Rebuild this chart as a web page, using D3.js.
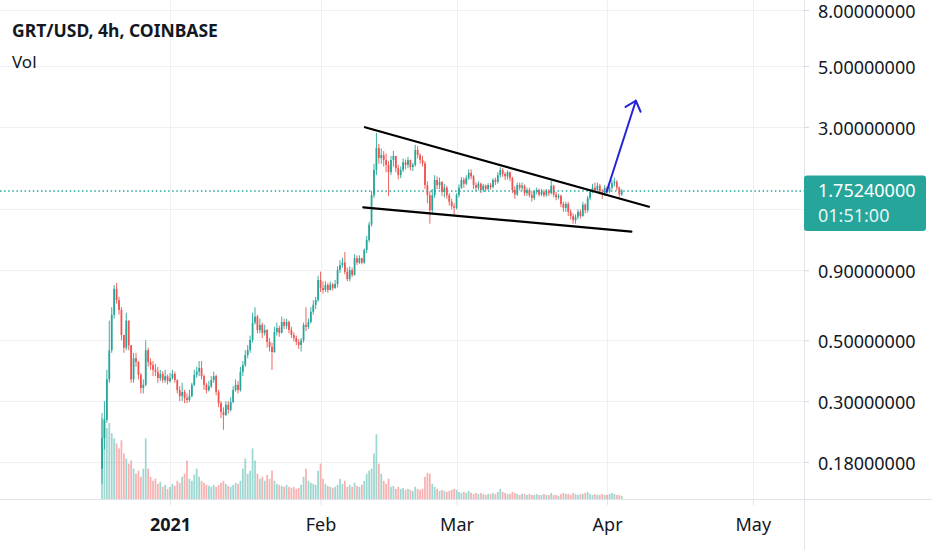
<!DOCTYPE html>
<html>
<head>
<meta charset="utf-8">
<script src="https://cdn.jsdelivr.net/npm/d3@7"></script>
<style>
  html, body { margin: 0; padding: 0; background: #ffffff; }
  svg { display: block; }
  text { font-family: "Noto Sans", "Open Sans", sans-serif; }
</style>
</head>
<body>
<svg id="chart" width="932" height="550"></svg>
<script>
// ---------------- DATA (12h candles) ----------------
const startTime = "2020-12-18T00:00:00Z";
const candleHours = 12;
const firstOpen = 0.17;

const closes = [
  0.22,0.256,0.36,0.46,0.62,0.77,0.70,0.645,0.523,0.47,
  0.59,0.48,0.36,0.43,0.417,0.374,0.335,0.344,0.46,0.417,
  0.406,0.39,0.384,0.364,0.377,0.358,0.37,0.355,0.364,0.377,
  0.358,0.329,0.313,0.324,0.308,0.303,0.313,0.344,0.374,0.384,
  0.396,0.37,0.344,0.329,0.34,0.358,0.37,0.324,0.295,0.274,
  0.267,0.291,0.279,0.298,0.329,0.344,0.329,0.384,0.406,0.442,
  0.461,0.501,0.58,0.61,0.545,0.569,0.532,0.545,0.493,0.473,
  0.453,0.536,0.554,0.532,0.583,0.564,0.583,0.545,0.523,0.51,
  0.493,0.481,0.50,0.569,0.56,0.583,0.635,0.673,0.701,0.829,
  0.776,0.763,0.795,0.763,0.80,0.776,0.802,0.902,0.941,0.96,
  0.888,0.836,0.902,0.865,0.996,0.96,0.996,0.96,1.067,1.16,
  1.32,1.69,2.09,2.51,2.31,2.37,2.27,2.18,2.05,2.27,
  2.35,2.12,2.0,2.09,2.23,2.18,2.27,2.14,2.18,2.47,
  2.37,2.27,2.21,1.84,1.69,1.49,1.69,1.92,1.84,1.89,
  1.74,1.80,1.69,1.60,1.54,1.52,1.69,1.80,1.92,1.86,
  1.95,2.04,1.98,1.84,1.80,1.86,1.765,1.83,1.78,1.84,
  1.81,1.92,1.89,2.0,2.09,2.02,1.98,2.05,1.95,1.765,
  1.70,1.84,1.80,1.83,1.72,1.765,1.69,1.65,1.74,1.765,
  1.70,1.74,1.69,1.75,1.72,1.83,1.70,1.66,1.68,1.57,
  1.52,1.57,1.47,1.42,1.37,1.41,1.47,1.42,1.56,1.49,
  1.65,1.74,1.80,1.765,1.83,1.74,1.70,1.80,1.74,1.80,
  1.87,1.89,1.80,1.70,1.7524
];

const highs = [
  0.26,0.30,0.39,0.59,0.66,0.795,0.81,0.72,0.66,0.52,
  0.63,0.58,0.48,0.45,0.45,0.42,0.38,0.36,0.50,0.47,
  0.43,0.42,0.41,0.40,0.39,0.385,0.39,0.375,0.38,0.39,
  0.385,0.36,0.34,0.35,0.33,0.32,0.33,0.35,0.39,0.40,
  0.42,0.42,0.375,0.35,0.355,0.37,0.384,0.375,0.33,0.30,
  0.285,0.30,0.30,0.31,0.34,0.36,0.355,0.40,0.42,0.46,
  0.48,0.52,0.63,0.66,0.62,0.60,0.58,0.57,0.55,0.51,
  0.49,0.56,0.58,0.565,0.61,0.60,0.60,0.59,0.56,0.535,
  0.52,0.505,0.51,0.58,0.66,0.60,0.66,0.70,0.72,0.86,
  0.89,0.82,0.82,0.81,0.82,0.81,0.83,0.93,0.98,1.00,
  1.05,0.92,0.93,0.92,1.03,1.02,1.02,1.00,1.08,1.20,
  1.35,1.75,2.2,2.85,2.6,2.5,2.45,2.4,2.25,2.35,
  2.45,2.35,2.18,2.15,2.3,2.28,2.33,2.28,2.22,2.58,
  2.55,2.4,2.35,2.25,1.9,1.75,1.78,2.0,1.98,1.96,
  1.9,1.86,1.83,1.72,1.64,1.58,1.72,1.85,1.97,1.96,
  2.0,2.1,2.1,2.0,1.88,1.9,1.88,1.86,1.85,1.87,
  1.87,1.95,1.96,2.05,2.14,2.12,2.05,2.08,2.06,1.97,
  1.82,1.88,1.88,1.88,1.85,1.8,1.8,1.75,1.76,1.8,
  1.79,1.78,1.77,1.78,1.78,1.91,1.84,1.74,1.71,1.7,
  1.6,1.6,1.6,1.5,1.45,1.44,1.5,1.5,1.6,1.58,
  1.68,1.78,1.86,1.88,1.88,1.86,1.78,1.84,1.82,1.83,
  1.92,1.96,1.92,1.82,1.78
];

const lows = [
  0.15,0.20,0.25,0.35,0.45,0.60,0.68,0.62,0.50,0.45,
  0.46,0.46,0.35,0.35,0.40,0.36,0.32,0.32,0.34,0.40,
  0.39,0.37,0.37,0.35,0.355,0.35,0.35,0.345,0.35,0.36,
  0.35,0.32,0.30,0.30,0.295,0.295,0.298,0.31,0.34,0.365,
  0.37,0.36,0.33,0.32,0.325,0.335,0.35,0.315,0.285,0.26,
  0.236,0.265,0.27,0.275,0.295,0.325,0.32,0.325,0.37,0.40,
  0.43,0.45,0.49,0.57,0.53,0.53,0.51,0.52,0.47,0.455,
  0.39,0.45,0.52,0.515,0.53,0.55,0.55,0.53,0.51,0.495,
  0.48,0.465,0.455,0.49,0.54,0.55,0.575,0.62,0.65,0.69,
  0.75,0.74,0.75,0.745,0.76,0.76,0.77,0.78,0.88,0.92,
  0.87,0.82,0.82,0.85,0.86,0.94,0.95,0.945,0.95,1.04,
  1.14,1.30,1.65,2.0,2.2,2.2,2.15,2.05,1.68,2.0,
  2.15,2.05,1.93,1.95,2.05,2.1,2.12,2.08,2.07,2.15,
  2.3,2.2,2.15,1.78,1.58,1.33,1.45,1.65,1.78,1.78,
  1.68,1.66,1.64,1.55,1.5,1.43,1.5,1.66,1.78,1.8,
  1.84,1.92,1.93,1.78,1.74,1.76,1.72,1.74,1.74,1.76,
  1.77,1.79,1.84,1.86,1.96,1.97,1.92,1.93,1.9,1.72,
  1.64,1.68,1.76,1.76,1.68,1.68,1.66,1.6,1.62,1.7,
  1.67,1.68,1.66,1.67,1.68,1.7,1.66,1.62,1.63,1.53,
  1.47,1.47,1.42,1.38,1.33,1.33,1.38,1.39,1.41,1.45,
  1.46,1.62,1.72,1.74,1.74,1.7,1.64,1.68,1.7,1.72,
  1.77,1.82,1.76,1.66,1.68
];

const volumes = [
  85,80,70,75,65,60,55,50,58,45,
  40,35,38,30,25,28,22,30,60,30,
  22,18,20,15,17,12,14,10,12,15,
  13,18,16,22,25,38,20,18,24,30,
  22,18,16,14,13,12,14,12,14,16,
  18,15,13,12,14,16,15,18,30,40,
  25,28,50,38,25,20,22,18,24,20,
  28,18,15,14,13,12,14,12,11,12,
  10,11,14,22,30,18,16,15,14,28,
  35,20,15,13,12,11,12,14,20,15,
  18,12,14,12,16,13,12,14,18,25,
  28,30,45,64,35,25,18,15,20,12,
  13,10,12,10,11,9,10,9,8,12,
  10,9,10,22,26,25,15,12,10,8,
  9,8,7,8,9,10,9,7,6,7,
  6,8,6,5,6,5,6,5,4,5,
  5,6,5,7,10,7,6,5,5,7,
  6,5,4,5,5,4,5,4,4,5,
  4,4,5,4,4,6,4,4,3,5,
  6,5,5,4,6,5,4,5,5,6,
  7,5,4,5,4,4,5,4,4,5,
  6,5,4,4,3
];

const priceTicks = [8, 5, 3, 1.5, 0.9, 0.5, 0.3, 0.18];
const timeTicks = ["2021-01-01", "2021-02-01", "2021-03-01", "2021-04-01", "2021-05-01"];
const timeTickLabels = ["2021", "Feb", "Mar", "Apr", "May"];
const lastPrice = 1.7524;
const countdown = "01:51:00";
const title = "GRT/USD, 4h, COINBASE";
const volLabel = "Vol";

// drawings: [time, price]
const upperTrend = [["2021-02-10T03:20:00Z", 2.99], ["2021-04-09T15:00:00Z", 1.534]];
const lowerTrend = [["2021-02-09T19:00:00Z", 1.527], ["2021-04-06T00:00:00Z", 1.245]];
const arrowLine = [["2021-03-31T21:40:00Z", 1.74], ["2021-04-06T22:00:00Z", 3.735]];

// ---------------- LAYOUT ----------------
const W = 932, H = 550;
const paneRight = 804, paneBottom = 499;
const up = "#26a69a", down = "#ef5350";

const svg = d3.select("#chart");
svg.append("rect").attr("width", W).attr("height", H).attr("fill", "#ffffff");

const x = d3.scaleUtc()
  .domain([new Date("2021-01-01T00:00:00Z"), new Date("2021-05-01T00:00:00Z")])
  .range([170, 752.8]);
const y = d3.scaleLog().domain([8, 0.18]).range([10, 462]);

const t0 = new Date(startTime);
const candles = closes.map((c, i) => {
  const o = i === 0 ? firstOpen : closes[i - 1];
  return {
    t: d3.utcHour.offset(t0, i * candleHours),
    o, c, h: Math.max(highs[i], o, c), l: Math.min(lows[i], o, c), v: volumes[i]
  };
});

const yVol = d3.scaleLinear().domain([0, d3.max(volumes)]).range([paneBottom, paneBottom - 86]);

// ---------------- GRID ----------------
const grid = svg.append("g").attr("shape-rendering", "crispEdges");
grid.selectAll("line.h").data(priceTicks).join("line")
  .attr("x1", 0).attr("x2", paneRight)
  .attr("y1", d => Math.round(y(d)) + 0.5).attr("y2", d => Math.round(y(d)) + 0.5)
  .attr("stroke", "#eef0f4");
const tickDates = timeTicks.map(s => new Date(s + "T00:00:00Z"));
grid.selectAll("line.v").data(tickDates).join("line")
  .attr("x1", d => Math.round(x(d)) + 0.5).attr("x2", d => Math.round(x(d)) + 0.5)
  .attr("y1", 0).attr("y2", paneBottom)
  .attr("stroke", "#eef0f4");

// ---------------- VOLUME ----------------
const step = x(d3.utcHour.offset(t0, candleHours)) - x(t0);
const bodyW = step * 0.72;
svg.append("g").selectAll("rect").data(candles).join("rect")
  .attr("x", d => x(d.t) - bodyW / 2)
  .attr("width", bodyW)
  .attr("y", d => yVol(d.v))
  .attr("height", d => paneBottom - yVol(d.v))
  .attr("fill", d => d.c >= d.o ? "rgba(38,166,154,0.45)" : "rgba(239,83,80,0.45)");

// ---------------- CANDLES ----------------
const cg = svg.append("g");
cg.selectAll("line").data(candles).join("line")
  .attr("x1", d => x(d.t)).attr("x2", d => x(d.t))
  .attr("y1", d => y(d.h)).attr("y2", d => y(d.l))
  .attr("stroke", d => d.c >= d.o ? up : down)
  .attr("stroke-width", 0.9);
cg.selectAll("rect").data(candles).join("rect")
  .attr("x", d => x(d.t) - bodyW / 2)
  .attr("width", bodyW)
  .attr("y", d => y(Math.max(d.o, d.c)))
  .attr("height", d => Math.max(1, Math.abs(y(d.o) - y(d.c))))
  .attr("fill", d => d.c >= d.o ? up : down);

// ---------------- LAST PRICE LINE ----------------
svg.append("line")
  .attr("x1", 0).attr("x2", paneRight)
  .attr("y1", y(lastPrice)).attr("y2", y(lastPrice))
  .attr("stroke", up).attr("stroke-width", 1.5)
  .attr("stroke-dasharray", "1.5 2.6");

// ---------------- DRAWINGS ----------------
const pt = p => [x(new Date(p[0])), y(p[1])];
[upperTrend, lowerTrend].forEach(seg => {
  const a = pt(seg[0]), b = pt(seg[1]);
  svg.append("line")
    .attr("x1", a[0]).attr("y1", a[1]).attr("x2", b[0]).attr("y2", b[1])
    .attr("stroke", "#000000").attr("stroke-width", 2.2).attr("stroke-linecap", "round");
});
{
  const a = pt(arrowLine[0]), b = pt(arrowLine[1]);
  const blue = "#2424d6";
  svg.append("line")
    .attr("x1", a[0]).attr("y1", a[1]).attr("x2", b[0]).attr("y2", b[1])
    .attr("stroke", blue).attr("stroke-width", 2).attr("stroke-linecap", "round");
  const ang = Math.atan2(a[1] - b[1], a[0] - b[0]);
  const len = 12, spread = 0.72;
  [ang - spread, ang + spread].forEach(t => {
    svg.append("line")
      .attr("x1", b[0]).attr("y1", b[1])
      .attr("x2", b[0] + len * Math.cos(t)).attr("y2", b[1] + len * Math.sin(t))
      .attr("stroke", blue).attr("stroke-width", 2).attr("stroke-linecap", "round");
  });
}

// ---------------- BORDERS ----------------
const borders = svg.append("g").attr("shape-rendering", "crispEdges");
borders.append("line").attr("x1", 0).attr("x2", W).attr("y1", paneBottom + 0.5).attr("y2", paneBottom + 0.5)
  .attr("stroke", "#e0e3e9");
borders.append("line").attr("x1", paneRight + 0.5).attr("x2", paneRight + 0.5).attr("y1", 0).attr("y2", H)
  .attr("stroke", "#e0e3e9");

// ---------------- AXES ----------------
const yAxis = d3.axisRight(y)
  .tickValues(priceTicks)
  .tickFormat(d3.format(".8f"))
  .tickSize(5).tickPadding(9);
const ya = svg.append("g").attr("transform", `translate(${paneRight},0)`).call(yAxis);
ya.select(".domain").remove();
ya.selectAll(".tick line").attr("stroke", "#d6d9df");
ya.selectAll(".tick text")
  .attr("fill", "#131722").attr("font-size", 18).attr("font-family", '"Noto Sans", sans-serif')
  .attr("dy", "0.4em");
// the 1.5 label sits beneath the last-price tag
ya.selectAll(".tick").filter(d => d === 1.5).select("text").remove();

const xAxis = d3.axisBottom(x)
  .tickValues(tickDates)
  .tickFormat((d, i) => timeTickLabels[i])
  .tickSize(6).tickPadding(13);
const xa = svg.append("g").attr("transform", `translate(0,${paneBottom})`).call(xAxis);
xa.select(".domain").remove();
xa.selectAll(".tick line").attr("stroke", "#e0e3e9");
xa.selectAll(".tick text")
  .attr("fill", "#131722").attr("font-size", 18).attr("font-family", '"Noto Sans", sans-serif')
  .attr("font-weight", (d, i) => i === 0 ? "bold" : "normal");

// ---------------- LAST PRICE TAG ----------------
const tagY = y(lastPrice);
svg.append("rect")
  .attr("x", paneRight).attr("y", tagY - 15.5).attr("width", 122).attr("height", 55.5)
  .attr("rx", 3).attr("fill", up);
svg.append("text").attr("x", 818).attr("y", tagY + 6.6)
  .attr("fill", "#ffffff").attr("font-size", 18).text(d3.format(".8f")(lastPrice));
svg.append("text").attr("x", 818).attr("y", tagY + 31.6)
  .attr("fill", "rgba(255,255,255,0.9)").attr("font-size", 18).text(countdown);

// ---------------- LEGEND ----------------
svg.append("text").attr("x", 12).attr("y", 36.5)
  .attr("font-size", 17.5).attr("font-weight", "bold").attr("fill", "#131722").text(title);
svg.append("text").attr("x", 12).attr("y", 68)
  .attr("font-size", 17).attr("fill", "#131722").text(volLabel);
</script>
</body>
</html>
